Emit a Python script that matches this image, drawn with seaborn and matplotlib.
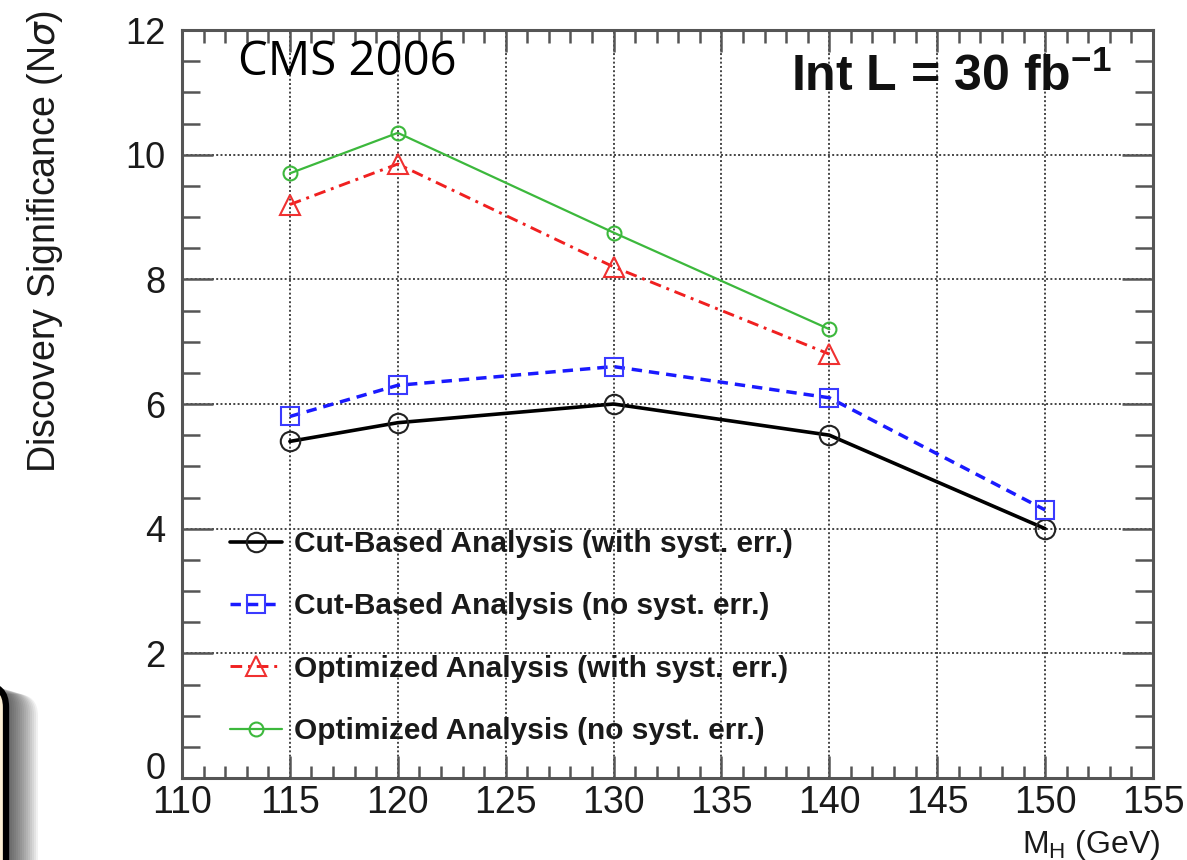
import matplotlib
matplotlib.use("Agg")
import matplotlib.pyplot as plt
import matplotlib.transforms as mtransforms
from matplotlib.patches import FancyBboxPatch
from matplotlib.ticker import MultipleLocator
import seaborn as sns

# Higgs mass points (GeV) and discovery significance (N sigma)
mass_cut = [115, 120, 130, 140, 150]
cut_syst = [5.4, 5.7, 6.0, 5.5, 4.0]
cut_nosyst = [5.8, 6.3, 6.6, 6.1, 4.3]

mass_opt = [115, 120, 130, 140]
opt_syst = [9.2, 9.85, 8.2, 6.8]
opt_nosyst = [9.7, 10.35, 8.75, 7.2]

series_labels = [
    "Cut-Based Analysis (with syst. err.)",
    "Cut-Based Analysis (no syst. err.)",
    "Optimized Analysis (with syst. err.)",
    "Optimized Analysis (no syst. err.)",
]
x_ticks = [110, 115, 120, 125, 130, 135, 140, 145, 150, 155]
y_ticks = [0, 2, 4, 6, 8, 10, 12]

sns.set_style("ticks")
plt.rcParams["font.family"] = ["Liberation Sans", "DejaVu Sans"]
plt.rcParams["mathtext.fontset"] = "custom"
plt.rcParams["mathtext.rm"] = "Liberation Sans"
plt.rcParams["mathtext.bf"] = "Liberation Sans:bold"

W, H = 1187, 860
fig = plt.figure(figsize=(W / 100, H / 100), dpi=100)
fig.patch.set_facecolor("white")

ax = fig.add_axes([182 / W, 1 - 778 / H, (1153 - 182) / W, (778 - 30) / H])

styles = [
    dict(x=mass_cut, y=cut_syst, color="black", lw=2.6, linestyle="-",
         marker="o", markersize=14, mec="#222222"),
    dict(x=mass_cut, y=cut_nosyst, color="#1a1aff", lw=2.5, linestyle=(0, (3, 2)),
         marker="s", markersize=13, mec="#3a3aff"),
    dict(x=mass_opt, y=opt_syst, color="#f02020", lw=2.1, linestyle=(0, (4, 2, 1, 2)),
         marker="^", markersize=15, mec="#f03030"),
    dict(x=mass_opt, y=opt_nosyst, color="#3cb83c", lw=1.6, linestyle="-",
         marker="o", markersize=10, mec="#3cb83c"),
]

for st, lab in zip(styles, series_labels):
    sns.lineplot(x=st["x"], y=st["y"], ax=ax, color=st["color"], linewidth=st["lw"],
                 linestyle=st["linestyle"], marker=st["marker"],
                 markersize=st["markersize"], markerfacecolor="none",
                 markeredgecolor=st["mec"], markeredgewidth=1.5, label=lab,
                 zorder=3)

ax.set_xlim(110, 155)
ax.set_ylim(0, 12)
ax.set_xticks(x_ticks)
ax.set_yticks(y_ticks)
ax.xaxis.set_minor_locator(MultipleLocator(1))
ax.yaxis.set_minor_locator(MultipleLocator(0.5))

ax.set_axisbelow(True)
ax.grid(True, which="major", color="#444444", linestyle=(0, (1, 1.2)), linewidth=1.4)

for sp in ax.spines.values():
    sp.set_color("#555555")
    sp.set_linewidth(2.2)

ax.tick_params(which="both", direction="in", top=True, right=True, color="#555555",
               width=1.8)
ax.tick_params(axis="x", which="major", length=16, pad=5, labelsize=27,
               labelcolor="#1a1a1a")
ax.tick_params(axis="x", which="minor", length=9)
ax.tick_params(axis="y", which="major", length=22, pad=12, labelsize=26,
               labelcolor="#1a1a1a")
ax.tick_params(axis="y", which="minor", length=13)

# the zero label sits a little higher, just above the first x label
zero_shift = mtransforms.ScaledTranslation(0, 9 / 72, fig.dpi_scale_trans)
ylab0 = ax.get_yticklabels()[0]
ylab0.set_transform(ylab0.get_transform() + zero_shift)

ax.set_xlabel("")
ax.set_ylabel("")

leg = ax.legend(loc="upper left", bbox_to_anchor=(230 / W, 1 - 530 / H),
                bbox_transform=fig.transFigure, frameon=False,
                prop={"weight": "bold", "size": 21.5}, handlelength=1.75,
                handletextpad=0.4, labelspacing=1.15, borderpad=0,
                borderaxespad=0, numpoints=1)
for t in leg.get_texts():
    t.set_color("#1a1a1a")

# Axis titles
fig.text(1160 / W, 1 - 845 / H, r"M$_{\mathrm{H}}$ (GeV)", ha="right", va="center",
         fontsize=23, color="#1a1a1a")
fig.text(45 / W, 1 - 10 / H, r"Discovery Significance (N$\sigma$)", rotation=90,
         ha="center", va="top", fontsize=27, color="#1a1a1a")

# Annotations inside the frame
fig.text(1112 / W, 1 - 77 / H, r"Int L = 30 fb$^{\mathbf{-1}}$", ha="right",
         va="center", fontsize=36, fontweight="bold", color="#111111")
fig.text(238 / W, 1 - 62 / H, "CMS 2006", ha="left", va="center", fontsize=34,
         family=["Open Sans", "DejaVu Sans"], color="black")

# Rounded callout box at the lower-left edge with a soft shadow
ident = mtransforms.IdentityTransform()
box_top = H - 685
for i in range(16):
    fig.patches.append(FancyBboxPatch(
        (-80, -60), 88 + 2 * i, box_top + 60 - i * 0.6,
        boxstyle="round,pad=0,rounding_size=22", transform=ident,
        facecolor="black", edgecolor="none", alpha=0.055, zorder=0))
fig.patches.append(FancyBboxPatch(
    (-80, -60), 86, box_top + 60, boxstyle="round,pad=0,rounding_size=22",
    transform=ident, facecolor="#fdf0d4", edgecolor="black", linewidth=4.5, zorder=1))

fig.savefig("out.png", dpi=100)
